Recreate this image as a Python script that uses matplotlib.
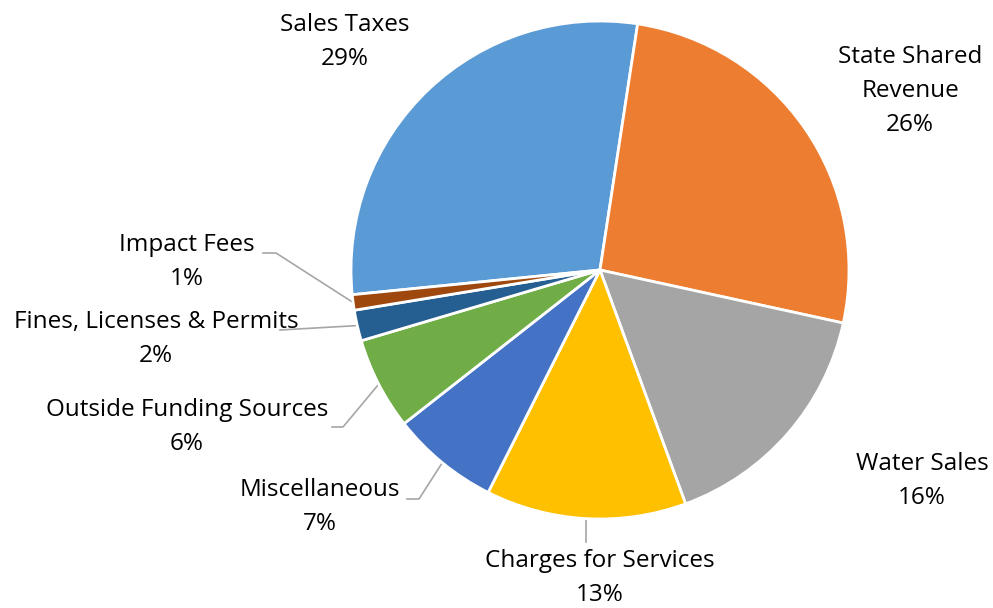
import matplotlib
matplotlib.use("Agg")
import matplotlib.pyplot as plt
import numpy as np

# revenue sources, clockwise from the Sales Taxes slice
categories = [
    "Sales Taxes",
    "State Shared\nRevenue",
    "Water Sales",
    "Charges for Services",
    "Miscellaneous",
    "Outside Funding Sources",
    "Fines, Licenses & Permits",
    "Impact Fees",
]
shares = [29, 26, 16, 13, 7, 6, 2, 1]
colors = ["#5B9BD5", "#ED7D31", "#A5A5A5", "#FFC000",
          "#4472C4", "#70AD47", "#255E91", "#9E480E"]

W, H = 993, 608
CX, CY, R = 600, 270, 249


def px(x, y):
    # pixel position (from top-left) -> data units where the pie has radius 1
    return (x - CX) / R, (CY - y) / R


plt.rcParams["font.family"] = ["Open Sans", "DejaVu Sans"]

fig = plt.figure(figsize=(W / 100, H / 100), dpi=100)
ax = fig.add_axes([0, 0, 1, 1])

wedges, _ = ax.pie(
    shares,
    colors=colors,
    startangle=90 - 264.3,
    counterclock=False,
    radius=1,
    wedgeprops=dict(edgecolor="white", linewidth=2),
)
ax.set_xlim(-CX / R, (W - CX) / R)
ax.set_ylim(-(H - CY) / R, CY / R)
ax.set_aspect("auto")
ax.axis("off")

# label centre and leader line path (elbow, end) in pixel positions
label_pos = {
    "Sales Taxes": (345, 42),
    "State Shared\nRevenue": (910, 91),
    "Water Sales": (922, 481),
    "Charges for Services": (600, 578),
    "Miscellaneous": (320, 507),
    "Outside Funding Sources": (187, 427),
    "Fines, Licenses & Permits": (156, 339),
    "Impact Fees": (187, 262),
}
leaders = {
    "Impact Fees": [(276, 253), (263, 253)],
    "Fines, Licenses & Permits": [(280, 330)],
    "Outside Funding Sources": [(343, 427), (332, 427)],
    "Miscellaneous": [(419, 499), (407, 499)],
    "Charges for Services": [(None, 542)],
}

for w, name, val in zip(wedges, categories, shares):
    x, y = px(*label_pos[name])
    ax.text(x, y, f"{name}\n{val}%", ha="center", va="center",
            multialignment="center", fontsize=17.5, color="#000000",
            linespacing=1.55)
    if name in leaders:
        mid = np.deg2rad((w.theta1 + w.theta2) / 2)
        sx, sy = np.cos(mid), np.sin(mid)
        xs, ys = [sx], [sy]
        for ex, ey in leaders[name]:
            if ex is None:
                xs.append(sx)
            else:
                xs.append(px(ex, ey)[0])
            ys.append(px(0, ey)[1])
        ax.plot(xs, ys, color="#A6A6A6", linewidth=1.2, zorder=0.5)

fig.savefig("out.png", dpi=100, facecolor="white")
